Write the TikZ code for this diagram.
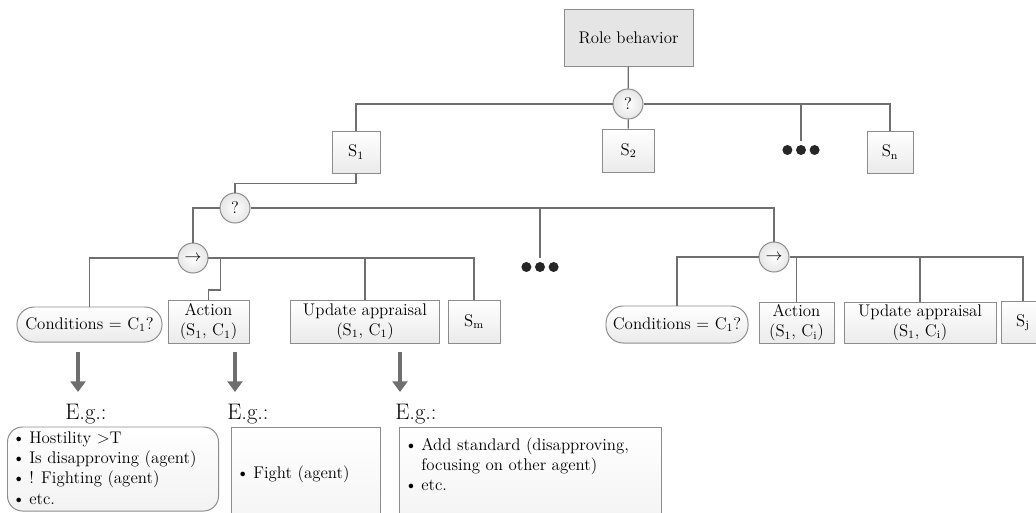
\documentclass[tikz,border=0pt]{standalone}
\usepackage{fontspec}
\usepackage{tikz}
\usetikzlibrary{arrows.meta}
\usetikzlibrary{shapes}
\usetikzlibrary{positioning}
\usepackage{xcolor}

\definecolor{linegray}{HTML}{6F6F6F}
\definecolor{boxgray}{HTML}{8C8C8C}
\newcommand{\idx}[2]{#1$_{\mathrm{#2}}$}
\newcommand{\bitem}{\makebox[0.42cm][l]{\textbullet}}

\tikzset{
  every node/.style={font=\fontsize{12}{14.5}\selectfont},
  box/.style={draw=boxgray, line width=0.7pt, top color=white, bottom color=black!8, inner sep=0pt, align=center},
  rolebox/.style={draw=boxgray, line width=0.7pt, fill=black!10, inner sep=0pt},
  ctrl/.style={circle, draw=boxgray, line width=0.7pt, inner color=white, outer color=black!10, minimum size=0.75cm, inner sep=0pt},
  cond/.style={box, rounded corners=0.43cm},
  exbox/.style={draw=boxgray, line width=0.7pt, top color=white, bottom color=black!5, inner xsep=0.125cm, inner ysep=0pt, anchor=base west},
  eg/.style={font=\fontsize{16}{19}\selectfont, inner sep=0pt, anchor=base west},
  dots/.style={minimum width=1cm, minimum height=0.45cm, inner sep=0pt,
    path picture={\foreach \d in {-0.34,0,0.34}
      \fill[black!85] ([xshift=\d cm]path picture bounding box.center) circle (0.125cm);}},
  link/.style={draw=linegray, line width=0.9pt},
  down/.style={draw=linegray, line width=2.6pt, -{Triangle[width=10.5pt,length=7.5pt]}}
}

\begin{document}
\begin{tikzpicture}[x=0.025cm,y=-0.025cm]
  \useasboundingbox (0,0) rectangle (1036,512);

  % top level
  \node[rolebox, minimum width=3.225cm, minimum height=1.4cm] (role) at (628.5,38) {Role behavior};
  \node[ctrl] (q1) at (628,104) {?};
  \node[box, minimum width=1.2cm, minimum height=1.05cm] (s1) at (356,152) {\idx{S}{1}};
  \node[box, minimum width=1.3cm, minimum height=1.075cm] (s2) at (628.5,150.5) {\idx{S}{2}};
  \node[dots] (dotsA) at (801,150) {};
  \node[box, minimum width=1.15cm, minimum height=1.05cm] (sn) at (890,152) {\idx{S}{n}};

  % second level
  \node[ctrl] (q2) at (235,208) {?};
  \node[ctrl] (seqA) at (193,258) {$\rightarrow$};
  \node[dots] (dotsB) at (540,267) {};
  \node[ctrl] (seqB) at (774,257) {$\rightarrow$};

  % left sequence
  \node[cond, minimum width=3.625cm, minimum height=0.875cm] (condA) at (89.5,324.5) {Conditions = \idx{C}{1}?};
  \node[box, minimum width=2.025cm, minimum height=1.075cm] (actA) at (208.5,321.5) {Action\\(\idx{S}{1}, \idx{C}{1})};
  \node[box, minimum width=3.7cm, minimum height=1.075cm] (updA) at (365,321.5) {Update appraisal\\(\idx{S}{1}, \idx{C}{1})};
  \node[box, minimum width=1.3cm, minimum height=1.075cm] (smA) at (474,321.5) {\idx{S}{m}};

  % right sequence
  \node[cond, minimum width=3.55cm, minimum height=0.925cm] (condB) at (677,324.5) {Conditions = \idx{C}{1}?};
  \node[box, minimum width=1.875cm, minimum height=1.025cm] (actB) at (796.5,322.5) {Action\\(\idx{S}{1}, \idx{C}{i})};
  \node[box, minimum width=3.8cm, minimum height=1.025cm] (updB) at (920,322.5) {Update appraisal\\(\idx{S}{1}, \idx{C}{i})};
  \node[box, minimum width=1.1cm, minimum height=1.05cm] (sj) at (1023,322.5) {\idx{S}{j}};

  % examples
  \node[eg] (eg1) at (65,419) {E.g.:};
  \node[eg] (eg2) at (227,419) {E.g.:};
  \node[eg] (eg3) at (395,419) {E.g.:};
  \node[exbox, rounded corners=0.375cm, text height=0.4cm, text depth=1.7cm] (ex1) at (7,443)
    {\parbox[t]{5.025cm}{\bitem Hostility >T\\\bitem Is disapproving (agent)\\\bitem ! Fighting (agent)\\\bitem etc.}};
  \node[exbox, text height=1.275cm, text depth=1.6cm] (ex2) at (231,478)
    {\parbox[t]{3.475cm}{\bitem Fight (agent)}};
  \node[exbox, text height=0.575cm, text depth=2cm] (ex3) at (399,450)
    {\parbox[t]{6.3cm}{\bitem Add standard (disapproving,\\\hspace*{0.42cm}focusing on other agent)\\\bitem etc.}};

  % connectors
  \draw[link] (role) -- (q1);
  \draw[link] (q1.west) -| (s1.north);
  \draw[link] (q1) -- (s2);
  \draw[link] (q1.east) -| (sn.north);
  \draw[link] (q1.east -| dotsA.north) -- (dotsA.north);
  \draw[link] (s1.south) -- ++(0,10) -| (q2.north);
  \draw[link] (q2.west) -| (seqA.north);
  \draw[link] (q2.east) -| (seqB.north);
  \draw[link] (q2.east -| dotsB.north) -- (dotsB.north);
  \draw[link] (seqA.west) -| (condA.north);
  \draw[link] (seqA.east) -| (smA.north);
  \draw[link] (seqA.east -| updA.north) -- (updA.north);
  \draw[link] (seqA.east) ++(12,0) -- ++(0,32) -| (actA.north);
  \draw[link] (seqB.west) -| (condB.north);
  \draw[link] (seqB.east) -| (sj.north);
  \draw[link] (seqB.east -| updB.north) -- (updB.north);
  \draw[link] (seqB.east -| actB.north) -- (actB.north);

  \foreach \n/\x in {1/78,2/235,3/400} {
    \coordinate (a\n) at (\x,352);
    \coordinate (b\n) at (\x,392);
    \draw[down] (a\n) -- (b\n);
  }
\end{tikzpicture}
\end{document}
